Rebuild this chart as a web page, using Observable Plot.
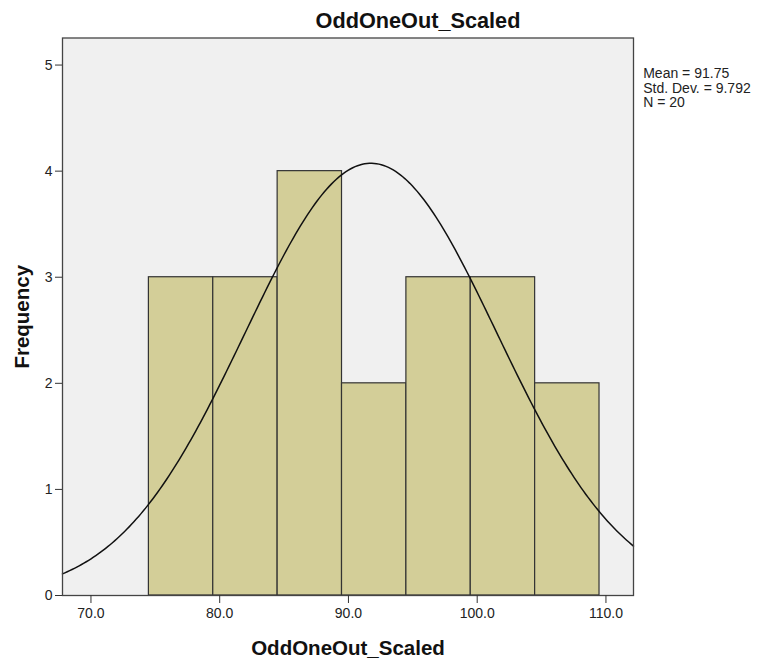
<!DOCTYPE html>
<html>
<head>
<meta charset="utf-8">
<script src="https://cdn.jsdelivr.net/npm/d3@7"></script>
<script src="https://cdn.jsdelivr.net/npm/@observablehq/plot@0.6"></script>
<style>
  html, body { margin: 0; padding: 0; background: #fff; }
  #chart { width: 760px; height: 662px; }
</style>
</head>
<body>
<div id="chart"></div>
<script>
// ---- data ----
const title = "OddOneOut_Scaled";
const xLabel = "OddOneOut_Scaled";
const yLabel = "Frequency";
const binStarts = [74.5, 79.5, 84.5, 89.5, 94.5, 99.5, 104.5];
const binWidth = 5;
const counts = [3, 3, 4, 2, 3, 3, 2];
const xTicks = [70, 80, 90, 100, 110];
const yTicks = [0, 1, 2, 3, 4, 5];
const xDomain = [67.79, 112.14];
const yDomain = [0, 5.255];
const statMean = 91.75;
const statSD = 9.792;
const statN = 20;
const statLines = ["Mean = 91.75", "Std. Dev. = 9.792", "N = 20"];

// ---- tables built from the arrays ----
const bins = binStarts.map((x1, i) => ({x1, x2: x1 + binWidth, count: counts[i]}));
// fitted normal curve from the displayed statistics
const nPts = 240;
const curve = d3.range(nPts + 1).map(i => {
  const x = xDomain[0] + (xDomain[1] - xDomain[0]) * i / nPts;
  const z = (x - statMean) / statSD;
  const y = statN * binWidth * Math.exp(-0.5 * z * z) / (statSD * Math.sqrt(2 * Math.PI));
  return {x, y};
});

const chart = Plot.plot({
  width: 760,
  height: 662,
  marginLeft: 62,
  marginRight: 127,
  marginTop: 37.5,
  marginBottom: 67,
  style: {fontFamily: "'Liberation Sans', Arial, sans-serif", background: "#fff", color: "#222", overflow: "visible"},
  x: {domain: xDomain},
  y: {domain: yDomain},
  marks: [
    Plot.frame({fill: "#f0f0f0", stroke: null}),
    Plot.rectY(bins, {x1: "x1", x2: "x2", y: "count", fill: "#d3ce98", stroke: "#333", strokeWidth: 1.2}),
    Plot.line(curve, {x: "x", y: "y", stroke: "#111", strokeWidth: 1.5, curve: "linear"}),
    Plot.frame({stroke: "#444", strokeWidth: 1.3}),
    Plot.axisX({ticks: xTicks, tickFormat: d => d.toFixed(1), tickSize: 8, tickPadding: 5, fontSize: 14, label: null, stroke: "#333"}),
    Plot.axisY({ticks: yTicks, tickFormat: d => String(d), tickSize: 7, tickPadding: 3, fontSize: 14, label: null, stroke: "#333"}),
    Plot.text([title], {text: d => d, frameAnchor: "top", textAnchor: "middle", lineAnchor: "bottom", dx: 70, dy: -10.2, fontSize: 21.7, fontWeight: "bold", fill: "#111"}),
    Plot.text([xLabel], {text: d => d, frameAnchor: "bottom", textAnchor: "middle", lineAnchor: "bottom", dy: 59, fontSize: 20.5, fontWeight: "bold", fill: "#111"}),
    Plot.text([yLabel], {text: d => d, frameAnchor: "left", textAnchor: "middle", lineAnchor: "bottom", rotate: -90, dx: -34, fontSize: 20.5, fontWeight: "bold", fill: "#111"}),
    Plot.text([statLines.join("\n")], {text: d => d, frameAnchor: "top-right", textAnchor: "start", lineAnchor: "top", dx: 9.7, dy: 29.5, fontSize: 14, lineHeight: 1.05, fill: "#222", style: {letterSpacing: "0.6px"}})
  ]
});
document.getElementById("chart").appendChild(chart);
</script>
</body>
</html>
